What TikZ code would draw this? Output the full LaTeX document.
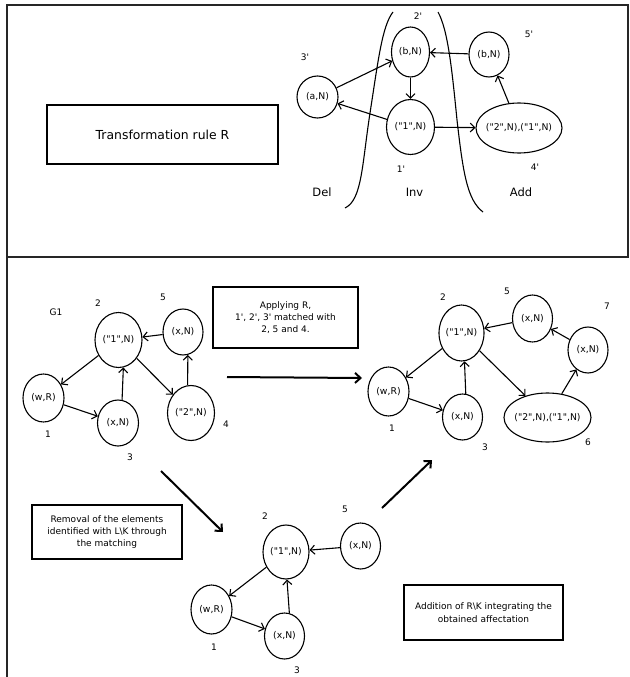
\documentclass[tikz,border=0pt]{standalone}
\usepackage{fontspec}
\setmainfont{DejaVu Sans}[Ligatures=TeXOff]
\usetikzlibrary{shapes.geometric,arrows.meta}
\newcommand\ntxt[1]{\makebox[0pt]{#1}}
\begin{document}
\begin{tikzpicture}[x=1pt,y=-1pt,
  nd/.style={ellipse,draw,line width=1.1pt,inner sep=0pt,font=\fontsize{9.3}{11}\selectfont},
  lbl/.style={font=\fontsize{9}{11}\selectfont,inner sep=0pt},
  zone/.style={font=\fontsize{11.5}{13}\selectfont,inner sep=0pt},
  tbox/.style={draw,line width=1.1pt,align=center,inner sep=0pt,font=\fontsize{9}{12.3}\selectfont},
  ar/.style={-{Straight Barb[length=4.5pt,width=9pt]},line width=1.1pt},
  big/.style={-{Straight Barb[length=5.5pt,width=10pt]},line width=2pt},
  frame/.style={line width=1.3pt,draw=black!85}
  ]
\useasboundingbox (0,0) rectangle (629,677);
% frames
\draw[frame] (7,5) rectangle (628,257);
\draw[frame] (7,257) -- (629,257);
\draw[frame] (7,257) -- (7,677);

% ---------- top panel ----------
\node[tbox,minimum width=231,minimum height=59,font=\fontsize{12.4}{14}\selectfont] (trR) at (162.5,134.5) {Transformation rule R};

\draw[line width=1.1pt] (393,12) .. controls (382,26) and (378,62) .. (370,113) .. controls (362,165) and (362,200) .. (345,208);
\draw[line width=1.1pt] (438,12) .. controls (448,30) and (452,70) .. (457,120) .. controls (463,172) and (467,200) .. (483,212);

\node[nd,minimum width=41,minimum height=42] (aN) at (317.5,97) {\ntxt{(a,N)}};
\node[nd,minimum width=38,minimum height=50] (bI) at (410.5,52) {\ntxt{(b,N)}};
\node[nd,minimum width=48,minimum height=55] (oneI) at (410.5,127) {\ntxt{("1",N)}};
\node[nd,minimum width=40,minimum height=45] (bA) at (489,54.5) {\ntxt{(b,N)}};
\node[nd,minimum width=86,minimum height=50] (twoA) at (519,128) {\ntxt{("2",N),("1",N)}};

\node[lbl] (l3p) at (305,57) {3'};
\node[lbl] (l2p) at (418,16) {2'};
\node[lbl] (l5p) at (529,34) {5'};
\node[lbl] (l1p) at (401,169) {1'};
\node[lbl] (l4p) at (535,167) {4'};
\node[zone] (del) at (322,192) {Del};
\node[zone] (inv) at (414.5,192) {Inv};
\node[zone] (add) at (521,192) {Add};

\draw[ar] (aN) -- (bI);
\draw[ar] (oneI) -- (aN);
\draw[ar] (bI) -- (oneI);
\draw[ar] (oneI) -- (twoA);
\draw[ar] (bA) -- (bI);
\draw[ar] (twoA) -- (bA);

% ---------- bottom-left graph G1 ----------
\node[nd,minimum width=47,minimum height=55] (g1a) at (118.5,340) {\ntxt{("1",N)}};
\node[nd,minimum width=40,minimum height=46] (g1b) at (183,332) {\ntxt{(x,N)}};
\node[nd,minimum width=41,minimum height=48] (g1c) at (43.5,398) {\ntxt{(w,R)}};
\node[nd,minimum width=41,minimum height=46] (g1d) at (118,423) {\ntxt{(x,N)}};
\node[nd,minimum width=47,minimum height=55] (g1e) at (191,413) {\ntxt{("2",N)}};
\node[lbl] (g1) at (56,312) {G1};
\node[lbl] (g1l2) at (98,303) {2};
\node[lbl] (g1l5) at (163,297) {5};
\node[lbl] (g1l1) at (48,434) {1};
\node[lbl] (g1l3) at (130,457) {3};
\node[lbl] (g1l4) at (226,424) {4};
\draw[ar] (g1a) -- (g1c);
\draw[ar] (g1c) -- (g1d);
\draw[ar] (g1d.80) -- (g1a.-80);
\draw[ar] (g1a) -- (g1e);
\draw[ar] (g1e.97) -- (g1b.-78);
\draw[ar] (g1b) -- (g1a);

\node[tbox,minimum width=145,minimum height=61] (apply) at (285.5,317.5) {Applying R,\\1', 2', 3' matched with\\2, 5 and 4.};

% ---------- right graph ----------
\node[nd,minimum width=45,minimum height=56] (r1) at (461.5,333) {\ntxt{("1",N)}};
\node[nd,minimum width=40,minimum height=47] (r5) at (532.5,318.5) {\ntxt{(x,N)}};
\node[nd,minimum width=40,minimum height=46] (r7) at (588,350) {\ntxt{(x,N)}};
\node[nd,minimum width=41,minimum height=49] (rw) at (388.5,391.5) {\ntxt{(w,R)}};
\node[nd,minimum width=40,minimum height=46] (r3) at (462.5,417) {\ntxt{(x,N)}};
\node[nd,minimum width=87,minimum height=49] (r6) at (547.5,417.5) {\ntxt{("2",N),("1",N)}};
\node[lbl] (rl2) at (443,297) {2};
\node[lbl] (rl5) at (507,291) {5};
\node[lbl] (rl7) at (607,306) {7};
\node[lbl] (rl1) at (392,428) {1};
\node[lbl] (rl3) at (485,447) {3};
\node[lbl] (rl6) at (588,442) {6};
\draw[ar] (r1) -- (rw);
\draw[ar] (rw) -- (r3);
\draw[ar] (r3.82) -- (r1.-84);
\draw[ar] (r1) -- (r6);
\draw[ar] (r6) -- (r7);
\draw[ar] (r7) -- (r5);
\draw[ar] (r5) -- (r1);

% ---------- middle graph ----------
\node[nd,minimum width=46,minimum height=54] (m1) at (286,552) {\ntxt{("1",N)}};
\node[nd,minimum width=40,minimum height=46] (m5) at (360.5,546) {\ntxt{(x,N)}};
\node[nd,minimum width=41,minimum height=49] (mw) at (211.5,609.5) {\ntxt{(w,R)}};
\node[nd,minimum width=40,minimum height=46] (m3) at (284.5,636) {\ntxt{(x,N)}};
\node[lbl] (ml2) at (265,516) {2};
\node[lbl] (ml5) at (345,509) {5};
\node[lbl] (ml1) at (214,647) {1};
\node[lbl] (ml3) at (297,670) {3};
\draw[ar] (m5) -- (m1);
\draw[ar] (m1) -- (mw);
\draw[ar] (mw) -- (m3);
\draw[ar] (m3.78) -- (m1.-88);

\node[tbox,minimum width=150,minimum height=54] (removal) at (107,532) {Removal of the elements\\identified with L\textbackslash K through\\the matching};
\node[tbox,minimum width=159,minimum height=55,font=\fontsize{9}{13}\selectfont] (addition) at (483.5,612.5) {Addition of R\textbackslash K integrating the\\obtained affectation};

% ---------- big arrows ----------
\coordinate (h1) at (227,377);
\coordinate (h2) at (362,378);
\coordinate (d1) at (161,471);
\coordinate (d2) at (223,532);
\coordinate (u1) at (382,508);
\coordinate (u2) at (432,460);
\draw[big] (h1) -- (h2);
\draw[big] (d1) -- (d2);
\draw[big] (u1) -- (u2);
\end{tikzpicture}
\end{document}
